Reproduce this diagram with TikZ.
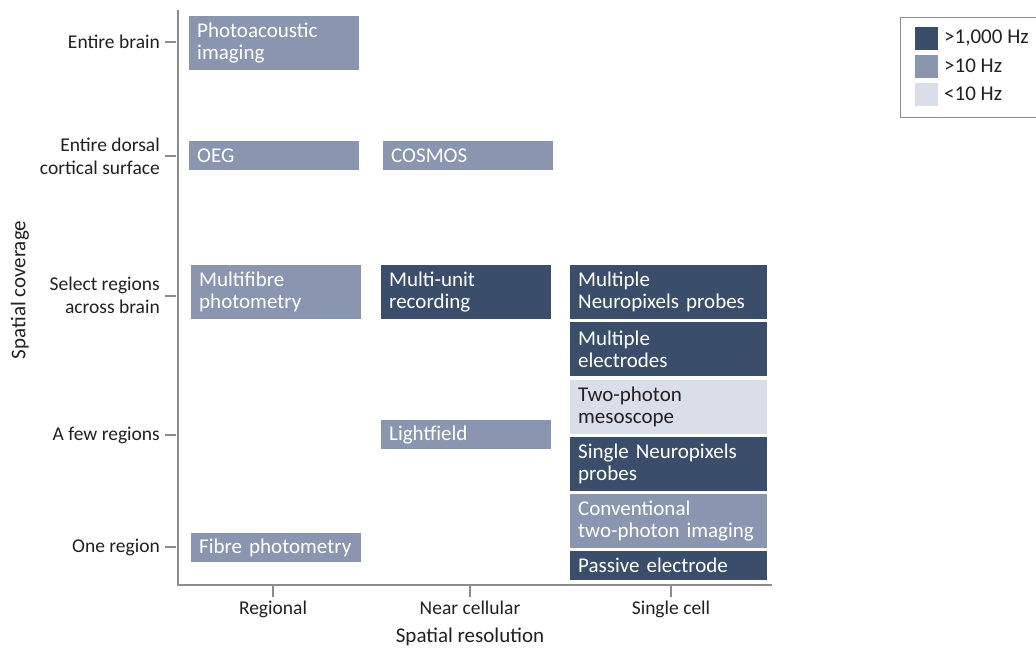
\documentclass[tikz,border=0pt]{standalone}
\usepackage{fontspec}
\setmainfont{Carlito}
\usetikzlibrary{positioning}
\definecolor{fastc}{HTML}{3A4D6B}
\definecolor{midc}{HTML}{8A96B0}
\definecolor{slowc}{HTML}{D9DEE8}
\definecolor{inkc}{HTML}{231F20}
\definecolor{axisc}{HTML}{8C8C8C}
\tikzset{
  meth/.style={rectangle, inner xsep=8pt, inner ysep=0pt, align=left, anchor=north west, font=\fontsize{21}{22}\selectfont},
  regcol/.style={meth, minimum width=170pt, text width=154pt},
  nearcol/.style={meth, minimum width=170pt, text width=154pt},
  cellcol/.style={meth, minimum width=197pt, text width=181pt},
  tall/.style={minimum height=54pt},
  short/.style={minimum height=29pt},
  fast/.style={fill=fastc, text=white},
  mid/.style={fill=midc, text=white},
  slow/.style={fill=slowc, text=inkc},
  ylab/.style={anchor=east, align=right, text=inkc, inner sep=0pt, font=\fontsize{19.5}{23}\selectfont},
  xlab/.style={anchor=north, text=inkc, inner sep=0pt, font=\fontsize{19.5}{22}\selectfont},
  axtitle/.style={text=inkc, inner sep=0pt, font=\fontsize{21}{24}\selectfont},
  axis/.style={draw=axisc, line width=1.2pt},
  swatch/.style={rectangle, inner sep=0pt, minimum size=23pt},
  key/.style={anchor=west, text=inkc, inner sep=0pt, font=\fontsize{21}{24}\selectfont},
}
\begin{document}
\begin{tikzpicture}[x=1pt, y=-1pt]
  \useasboundingbox (0,0) rectangle (1036,648);
  \coordinate (top) at (178,10);
  \coordinate (orig) at (178,585);
  \coordinate (xend) at (772,585);
  \draw[axis] (top) -- (orig) -- (xend);

  \node[ylab] (brain)  at (160,42)  {Entire brain};
  \node[ylab] (dorsal) at (160,156) {Entire dorsal\\cortical surface};
  \node[ylab] (select) at (160,295) {Select regions\\across brain};
  \node[ylab] (few)    at (160,435) {A few regions};
  \node[ylab] (one)    at (160,547) {One region};
  \coordinate (tbrain) at (176,42);
  \coordinate (tdorsal) at (176,156);
  \coordinate (tselect) at (176,296);
  \coordinate (tfew) at (176,435);
  \coordinate (tone) at (176,547);
  \draw[axis] (tbrain) -- ++(-11,0);
  \draw[axis] (tdorsal) -- ++(-11,0);
  \draw[axis] (tselect) -- ++(-11,0);
  \draw[axis] (tfew) -- ++(-11,0);
  \draw[axis] (tone) -- ++(-11,0);

  \coordinate (treg) at (273,586);
  \coordinate (tnear) at (470,586);
  \coordinate (tcell) at (671,586);
  \draw[axis] (treg) -- ++(0,11);
  \draw[axis] (tnear) -- ++(0,11);
  \draw[axis] (tcell) -- ++(0,11);
  \node[xlab] (reg)  at (273,601) {Regional};
  \node[xlab] (near) at (470,601) {Near cellular};
  \node[xlab] (cell) at (671,601) {Single cell};

  \node[axtitle] (xtitle) at (470,637) {Spatial resolution};
  \node[axtitle, rotate=90] (ytitle) at (20,290) {Spatial coverage};

  \node[regcol, tall, mid]   (pai)   at (189,16)  {Photoacoustic\\imaging};
  \node[regcol, short, mid]  (oeg)   at (189,141) {OEG};
  \node[nearcol, short, mid] (cosmos) at (383,141) {COSMOS};
  \node[regcol, tall, mid]   (mfp)   at (191,265) {Multifibre\\photometry};
  \node[nearcol, tall, fast] (mua)   at (381,265) {Multi-unit\\recording};
  \node[nearcol, short, mid] (lf)    at (381,420) {Lightfield};
  \node[regcol, short, mid]  (fp)    at (191,533) {Fibre photometry};

  \node[cellcol, tall, fast] (mnp)  at (570,265) {Multiple\\Neuropixels probes};
  \node[cellcol, tall, fast] (mel)  at (570,322) {Multiple\\electrodes};
  \node[cellcol, tall, slow] (meso) at (570,380) {Two-photon\\mesoscope};
  \node[cellcol, tall, fast] (snp)  at (570,437) {Single Neuropixels\\probes};
  \node[cellcol, tall, mid]  (ctp)  at (570,494) {Conventional\\two-photon imaging};
  \node[cellcol, short, fast] (pe)  at (570,551) {Passive electrode};

  \node[draw=axisc, line width=1pt, minimum width=137pt, minimum height=100pt, anchor=north west] (legend) at (900,17) {};
  \node[swatch, fill=fastc] (kfast) at (926,38) {};
  \node[swatch, fill=midc]  (kmid)  at (926,66) {};
  \node[swatch, fill=slowc] (kslow) at (926,94) {};
  \node[key] at (944,38) {>1,000 Hz};
  \node[key] at (944,66) {>10 Hz};
  \node[key] at (944,94) {<10 Hz};
\end{tikzpicture}
\end{document}
